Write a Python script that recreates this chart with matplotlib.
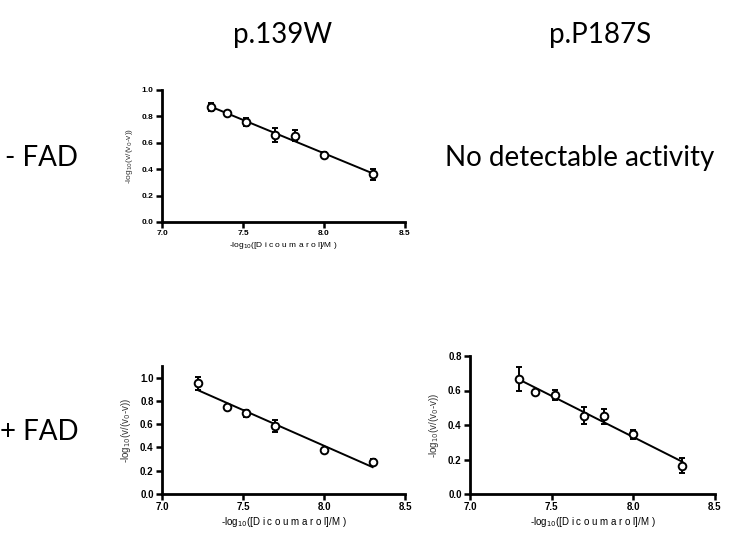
import matplotlib
matplotlib.use('Agg')
import matplotlib.pyplot as plt
import numpy as np

# p.139W, - FAD
x_a = [7.30, 7.40, 7.52, 7.70, 7.82, 8.00, 8.30]
y_a = [0.87, 0.825, 0.755, 0.66, 0.655, 0.51, 0.36]
e_a = [0.03, 0.015, 0.03, 0.055, 0.045, 0.02, 0.045]

# p.139W, + FAD
x_b = [7.22, 7.40, 7.52, 7.70, 8.00, 8.30]
y_b = [0.95, 0.75, 0.695, 0.585, 0.375, 0.275]
e_b = [0.055, 0.01, 0.03, 0.05, 0.01, 0.025]

# p.P187S, + FAD
x_c = [7.30, 7.40, 7.52, 7.70, 7.82, 8.00, 8.30]
y_c = [0.665, 0.59, 0.575, 0.455, 0.45, 0.345, 0.165]
e_c = [0.07, 0.01, 0.03, 0.05, 0.045, 0.025, 0.045]

col_titles = ['p.139W', 'p.P187S']
row_titles = ['- FAD', '+ FAD']
xticks = [7.0, 7.5, 8.0, 8.5]

W, H = 736, 541
fig = plt.figure(figsize=(W / 100, H / 100), dpi=100)

def px_axes(x0, x1, ytop, ybot):
    return fig.add_axes([x0 / W, 1 - ybot / H, (x1 - x0) / W, (ybot - ytop) / H])

def panel(ax, x, y, e, ymax, yticks, fs):
    ax.errorbar(x, y, yerr=e, fmt='o', ms=5.5, mfc='white', mec='black', mew=1.4,
                ecolor='black', elinewidth=1.4, capsize=2.5, capthick=1.4, zorder=3)
    k, b = np.polyfit(x, y, 1)
    xf = np.array([min(x), max(x)])
    ax.plot(xf, k * xf + b, color='black', lw=1.4, zorder=2)
    ax.set_xlim(7.0, 8.5)
    ax.set_ylim(0, ymax)
    ax.set_xticks(xticks)
    ax.set_xticklabels([f'{t:.1f}' for t in xticks])
    ax.set_yticks(yticks)
    ax.set_yticklabels([f'{t:.1f}' for t in yticks])
    for s in ['top', 'right']:
        ax.spines[s].set_visible(False)
    for s in ['left', 'bottom']:
        ax.spines[s].set_linewidth(2)
    ax.tick_params(width=1.8, length=4, labelsize=fs, pad=2)
    for lab in ax.get_xticklabels() + ax.get_yticklabels():
        lab.set_fontweight('bold')
        lab.set_family('Liberation Sans')
    ax.set_xlabel('-log$_{10}$([D i c o u m a r o l]/M )', fontsize=fs,
                  family='Liberation Sans', labelpad=2)
    ax.set_ylabel('-log$_{10}$(v/(v$_0$-v))', fontsize=fs,
                  family='Liberation Sans', color='#333333', labelpad=5)

ax1 = px_axes(162, 405, 90, 222)
panel(ax1, x_a, y_a, e_a, 1.0, [0.0, 0.2, 0.4, 0.6, 0.8, 1.0], 6)

ax2 = px_axes(162, 405, 366, 494)
panel(ax2, x_b, y_b, e_b, 1.1, [0.0, 0.2, 0.4, 0.6, 0.8, 1.0], 7)

ax3 = px_axes(470, 715, 356, 494)
panel(ax3, x_c, y_c, e_c, 0.8, [0.0, 0.2, 0.4, 0.6, 0.8], 7)

tf = 'Lato'
fig.text(283 / W, 1 - 35 / H, col_titles[0], ha='center', va='center', fontsize=20, family=tf)
fig.text(600 / W, 1 - 35 / H, col_titles[1], ha='center', va='center', fontsize=20, family=tf)
fig.text(5 / W, 1 - 158 / H, row_titles[0], ha='left', va='center', fontsize=20, family=tf)
fig.text(0 / W, 1 - 432 / H, row_titles[1], ha='left', va='center', fontsize=20, family=tf)
fig.text(580 / W, 1 - 158 / H, 'No detectable activity', ha='center', va='center',
         fontsize=20, family=tf)

fig.savefig('out.png', dpi=100, facecolor='white')
